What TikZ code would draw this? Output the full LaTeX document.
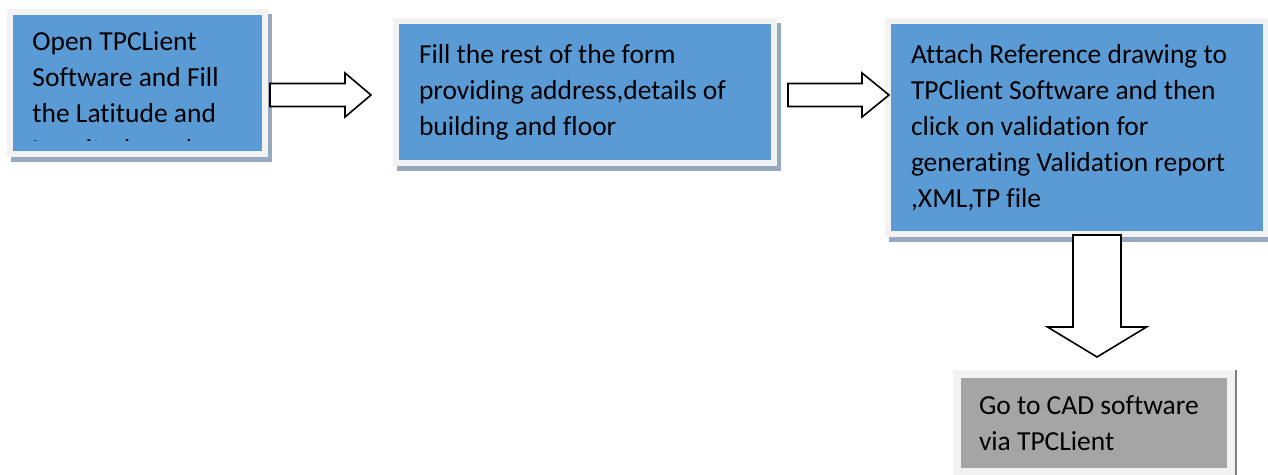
\documentclass[tikz,border=0pt]{standalone}
\usepackage{fontspec}
\setmainfont{Carlito}[Ligatures=CommonOff]
\usetikzlibrary{calc}

\definecolor{boxblue}{HTML}{5B9BD5}
\definecolor{framegray}{HTML}{F2F2F2}
\definecolor{shadowblue}{HTML}{97A9BF}
\definecolor{stepgray}{HTML}{A5A5A5}

% block arrow: start, tip, shaft half width, head half width, head length
\newcommand{\blockarrow}[5]{%
  \coordinate (ba-h) at ($(#2)!#5!(#1)$);
  \draw[blockarr] ($(#1)!#3!90:(#2)$) -- ($(ba-h)!#3!90:(#2)$) -- ($(ba-h)!#4!90:(#2)$)
    -- (#2) -- ($(ba-h)!#4!-90:(#2)$) -- ($(ba-h)!#3!-90:(#2)$) -- ($(#1)!#3!-90:(#2)$) -- cycle;
}

\begin{document}
\begin{tikzpicture}[x=0.5pt, y=-0.5pt,
  task/.style={fill=boxblue, draw=framegray, line width=3pt, outer sep=0pt, inner sep=0pt,
    minimum width=189pt, minimum height=71pt, text width=166pt, align=left,
    font=\fontsize{13.75}{18}\selectfont, execute at begin node={\spaceskip=0pt\xspaceskip=0pt},
    preaction={fill=shadowblue, draw=shadowblue, transform canvas={shift={(2pt,-2.5pt)}}}},
  lastbox/.style={fill=stepgray, draw=framegray, line width=4pt, outer sep=0pt, inner sep=0pt,
    minimum width=137pt, minimum height=49pt, text width=115pt, align=left,
    font=\fontsize{13.75}{18}\selectfont, execute at begin node={\spaceskip=0pt\xspaceskip=0pt},
    preaction={fill=gray, draw=gray, transform canvas={xshift=1pt}}},
  blockarr/.style={draw=black, fill=white, line width=0.8pt, line join=miter}
]
\fill[white] (0,0) rectangle (1268,475);
\useasboundingbox (0,0) rectangle (1268,475);

\node[task, minimum width=127.5pt, text width=100pt] (open) at (137.5,83) {};
\begin{scope}
  \clip (13,15) rectangle (262,141);
  \node[anchor=north west, inner sep=0pt, align=left, font=\fontsize{13.75}{18}\selectfont] (opentext) at (32,31)
    {Open TPCLient\\Software and Fill\\the Latitude and\\Longitude and};
\end{scope}

\node[task] (fill) at (585,92) {Fill the rest of the form\\providing address,details of\\building and floor};
\node[task, minimum height=106.5pt] (attach) at (1077,127.5) {Attach Reference drawing to\\TPClient Software and then\\click on validation for\\generating Validation report\\,XML,TP file};
\node[lastbox] (gocad) at (1094,423) {Go to CAD software\\via TPCLient};

% arrows between the steps
\coordinate (a1s) at (270,95);
\coordinate (a1e) at (371,95);
\coordinate (a2s) at (788,95);
\coordinate (a2e) at (889,95);
\coordinate (a3s) at (1097,235);
\coordinate (a3e) at (1097,357);
\blockarrow{a1s}{a1e}{5.75pt}{11pt}{13pt}
\blockarrow{a2s}{a2e}{5.75pt}{11pt}{13.5pt}
\blockarrow{a3s}{a3e}{12pt}{24.75pt}{15pt}
\end{tikzpicture}
\end{document}
